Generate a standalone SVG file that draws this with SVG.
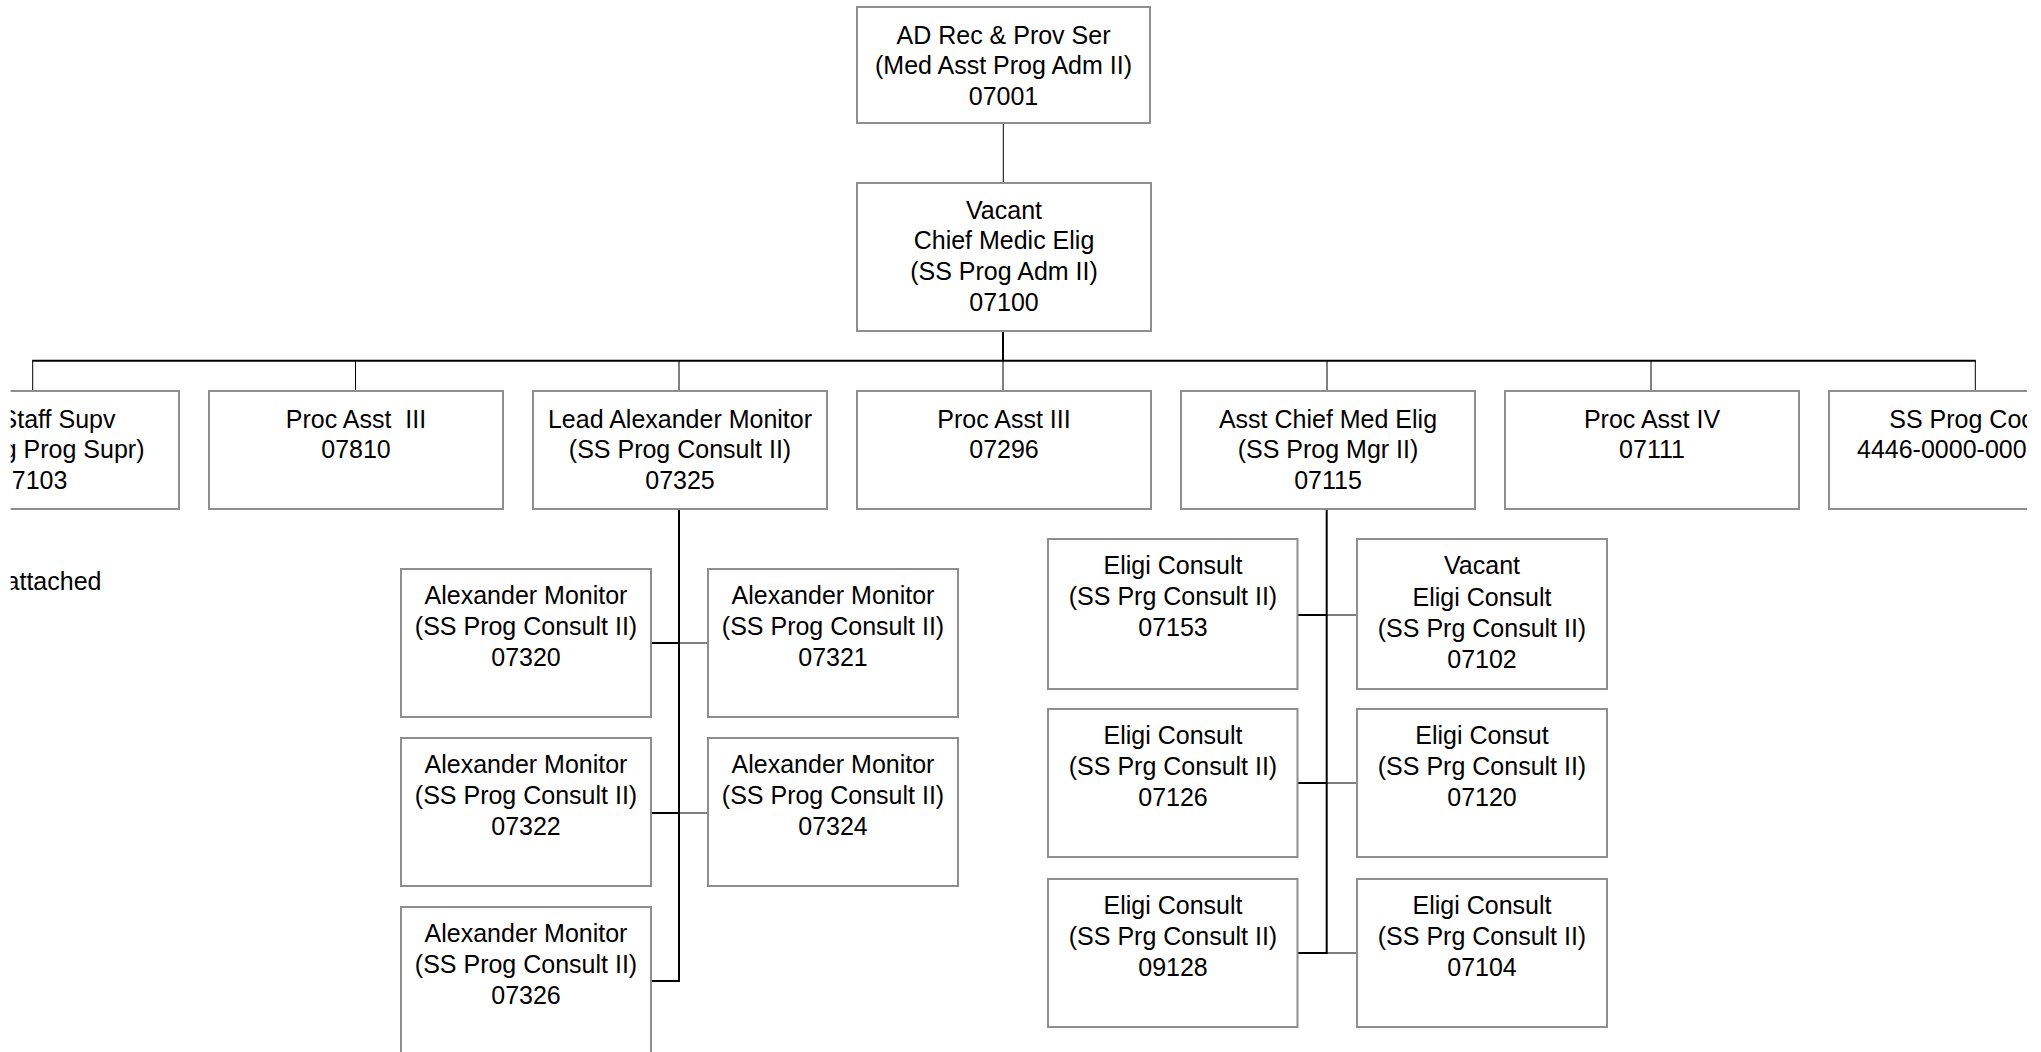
<svg xmlns="http://www.w3.org/2000/svg" width="2041" height="1052" viewBox="0 0 2041 1052">
<style>
.box{fill:#ffffff;stroke:#8e8e8e;stroke-width:2}
.t{font-family:"Liberation Sans",Arial,Helvetica,sans-serif;font-size:25px;fill:#000000;text-anchor:middle}
.e{text-anchor:end}
.s{text-anchor:start}
.thin{stroke:#000000;stroke-width:1;fill:none}
.thick{stroke:#000000;stroke-width:2;fill:none}
</style>
<defs>
<clipPath id="view"><rect x="10.7" y="0" width="2016.3" height="1052"/></clipPath>
</defs>
<rect x="0" y="0" width="2041" height="1052" fill="#ffffff"/>
<g id="connectors">
<line class="thin" x1="1003.3" y1="123" x2="1003.3" y2="183"/>
<line class="thick" x1="1003" y1="331" x2="1003" y2="360.7"/>
<line class="thick" x1="32.2" y1="360.7" x2="1975.8" y2="360.7"/>
<line class="thin" x1="32.7" y1="360.7" x2="32.7" y2="391"/>
<line class="thin" x1="355.5" y1="360.7" x2="355.5" y2="391"/>
<line class="thin" x1="679" y1="360.7" x2="679" y2="391"/>
<line class="thin" x1="1003" y1="360.7" x2="1003" y2="391"/>
<line class="thin" x1="1327" y1="360.7" x2="1327" y2="391"/>
<line class="thin" x1="1651" y1="360.7" x2="1651" y2="391"/>
<line class="thin" x1="1975.3" y1="360.7" x2="1975.3" y2="391"/>
<polyline class="thick" points="679,509 679,981 651,981"/>
<line class="thick" x1="651" y1="643" x2="679" y2="643"/>
<line class="thick" x1="651" y1="813" x2="679" y2="813"/>
<line class="thin" x1="679" y1="643" x2="708" y2="643"/>
<line class="thin" x1="679" y1="813" x2="708" y2="813"/>
<line class="thick" x1="1326.7" y1="509" x2="1326.7" y2="954"/>
<line class="thick" x1="1297.5" y1="615" x2="1326.7" y2="615"/>
<line class="thick" x1="1297.5" y1="783" x2="1326.7" y2="783"/>
<line class="thick" x1="1297.5" y1="953" x2="1326.7" y2="953"/>
<line class="thin" x1="1326.7" y1="615" x2="1357" y2="615"/>
<line class="thin" x1="1326.7" y1="783" x2="1357" y2="783"/>
<line class="thin" x1="1326.7" y1="953" x2="1357" y2="953"/>
</g>
<g id="n07001">
<rect class="box" x="857" y="7" width="293" height="116"/>
<text class="t"><tspan x="1003.5" y="43.5">AD Rec &amp; Prov Ser</tspan><tspan x="1003.5" y="74">(Med Asst Prog Adm II)</tspan><tspan x="1003.5" y="104.5">07001</tspan></text>
</g>
<g id="n07100">
<rect class="box" x="857" y="183" width="294" height="148"/>
<text class="t"><tspan x="1004" y="218.5">Vacant</tspan><tspan x="1004" y="249.3">Chief Medic Elig</tspan><tspan x="1004" y="280">(SS Prog Adm II)</tspan><tspan x="1004" y="310.7">07100</tspan></text>
</g>
<g id="n07103" clip-path="url(#view)">
<rect class="box" x="-115" y="391" width="294" height="118"/>
<text class="t e"><tspan x="115.5" y="427.5">Staff Supv</tspan><tspan x="144.5" y="458">g Prog Supr)</tspan><tspan x="67.4" y="488.5">7103</tspan></text>
</g>
<g id="note" clip-path="url(#view)">
<text class="t e" x="101.5" y="590">attached</text>
</g>
<g id="n07810">
<rect class="box" x="209" y="391" width="294" height="118"/>
<text class="t" style="white-space:pre" xml:space="preserve"><tspan x="356" y="427.5">Proc Asst  III</tspan><tspan x="356" y="458">07810</tspan></text>
</g>
<g id="n07325">
<rect class="box" x="533" y="391" width="294" height="118"/>
<text class="t"><tspan x="680" y="427.5">Lead Alexander Monitor</tspan><tspan x="680" y="458">(SS Prog Consult II)</tspan><tspan x="680" y="488.5">07325</tspan></text>
</g>
<g id="n07296">
<rect class="box" x="857" y="391" width="294" height="118"/>
<text class="t"><tspan x="1004" y="427.5">Proc Asst III</tspan><tspan x="1004" y="458">07296</tspan></text>
</g>
<g id="n07115">
<rect class="box" x="1181" y="391" width="294" height="118"/>
<text class="t"><tspan x="1328" y="427.5">Asst Chief Med Elig</tspan><tspan x="1328" y="458">(SS Prog Mgr II)</tspan><tspan x="1328" y="488.5">07115</tspan></text>
</g>
<g id="n07111">
<rect class="box" x="1505" y="391" width="294" height="118"/>
<text class="t"><tspan x="1652" y="427.5">Proc Asst IV</tspan><tspan x="1652" y="458">07111</tspan></text>
</g>
<g id="n4446" clip-path="url(#view)">
<rect class="box" x="1829" y="391" width="294" height="118"/>
<text class="t s"><tspan x="1889.3" y="427.5">SS Prog Coo</tspan><tspan x="1857" y="458">4446-0000-000</tspan></text>
</g>
<g id="n07320">
<rect class="box" x="401" y="569" width="250" height="148"/>
<text class="t"><tspan x="526" y="604">Alexander Monitor</tspan><tspan x="526" y="634.8">(SS Prog Consult II)</tspan><tspan x="526" y="665.6">07320</tspan></text>
</g>
<g id="n07321">
<rect class="box" x="708" y="569" width="250" height="148"/>
<text class="t"><tspan x="833" y="604">Alexander Monitor</tspan><tspan x="833" y="634.8">(SS Prog Consult II)</tspan><tspan x="833" y="665.6">07321</tspan></text>
</g>
<g id="n07322">
<rect class="box" x="401" y="738" width="250" height="148"/>
<text class="t"><tspan x="526" y="773">Alexander Monitor</tspan><tspan x="526" y="803.8">(SS Prog Consult II)</tspan><tspan x="526" y="834.6">07322</tspan></text>
</g>
<g id="n07324">
<rect class="box" x="708" y="738" width="250" height="148"/>
<text class="t"><tspan x="833" y="773">Alexander Monitor</tspan><tspan x="833" y="803.8">(SS Prog Consult II)</tspan><tspan x="833" y="834.6">07324</tspan></text>
</g>
<g id="n07326">
<rect class="box" x="401" y="907" width="250" height="148"/>
<text class="t"><tspan x="526" y="942">Alexander Monitor</tspan><tspan x="526" y="972.8">(SS Prog Consult II)</tspan><tspan x="526" y="1003.6">07326</tspan></text>
</g>
<g id="n07153">
<rect class="box" x="1048" y="539" width="249.5" height="150"/>
<text class="t"><tspan x="1173" y="574">Eligi Consult</tspan><tspan x="1173" y="605">(SS Prg Consult II)</tspan><tspan x="1173" y="636">07153</tspan></text>
</g>
<g id="n07102">
<rect class="box" x="1357" y="539" width="250" height="150"/>
<text class="t"><tspan x="1482" y="574">Vacant</tspan><tspan x="1482" y="605.5">Eligi Consult</tspan><tspan x="1482" y="637">(SS Prg Consult II)</tspan><tspan x="1482" y="668">07102</tspan></text>
</g>
<g id="n07126">
<rect class="box" x="1048" y="709" width="249.5" height="148"/>
<text class="t"><tspan x="1173" y="744">Eligi Consult</tspan><tspan x="1173" y="775">(SS Prg Consult II)</tspan><tspan x="1173" y="806">07126</tspan></text>
</g>
<g id="n07120">
<rect class="box" x="1357" y="709" width="250" height="148"/>
<text class="t"><tspan x="1482" y="744">Eligi Consut</tspan><tspan x="1482" y="775">(SS Prg Consult II)</tspan><tspan x="1482" y="806">07120</tspan></text>
</g>
<g id="n09128">
<rect class="box" x="1048" y="879" width="249.5" height="148"/>
<text class="t"><tspan x="1173" y="914">Eligi Consult</tspan><tspan x="1173" y="945">(SS Prg Consult II)</tspan><tspan x="1173" y="976">09128</tspan></text>
</g>
<g id="n07104">
<rect class="box" x="1357" y="879" width="250" height="148"/>
<text class="t"><tspan x="1482" y="914">Eligi Consult</tspan><tspan x="1482" y="945">(SS Prg Consult II)</tspan><tspan x="1482" y="976">07104</tspan></text>
</g>
</svg>
